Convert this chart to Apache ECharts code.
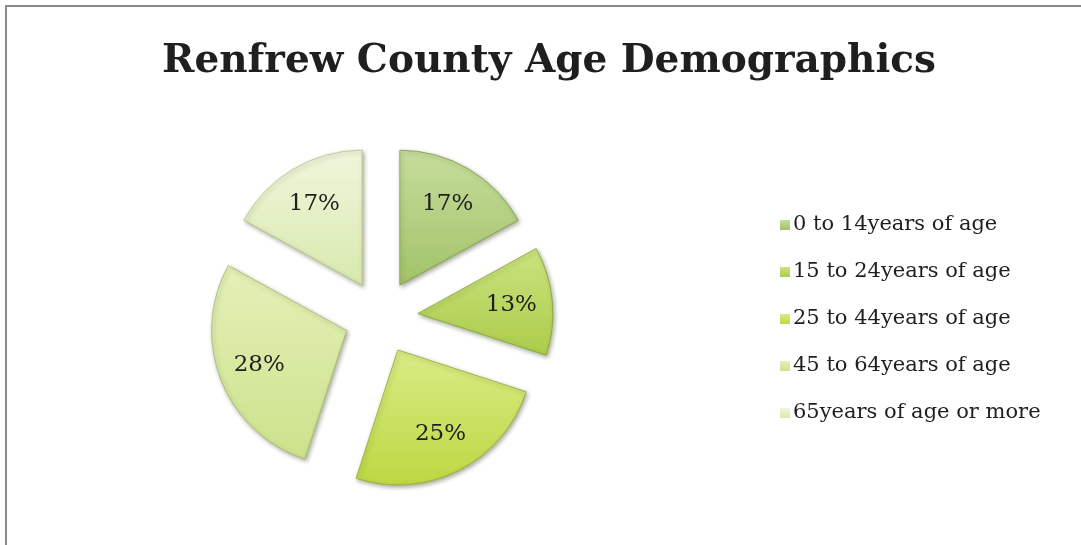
<!DOCTYPE html>
<html>
<head>
<meta charset="utf-8">
<script src="https://cdn.jsdelivr.net/npm/echarts@6/dist/echarts.min.js"></script>
<style>
  html, body { margin: 0; padding: 0; background: #ffffff; }
  #frame {
    position: absolute; left: 5px; top: 5px; right: 0; bottom: 0;
    border-top: 2px solid #8a8a8a; border-left: 2px solid #8a8a8a;
  }
  #chart { position: absolute; left: 0; top: 0; width: 1081px; height: 545px; }
</style>
</head>
<body>
<div id="frame"></div>
<div id="chart"></div>
<script>
// Age groups and their share of the population (percent)
const categories = [
  '0 to 14years of age',
  '15 to 24years of age',
  '25 to 44years of age',
  '45 to 64years of age',
  '65years of age or more'
];
const shares = [17, 13, 25, 28, 17];

// Fill for each wedge: lighter top, deeper bottom
const topColors = ['#c6dd9c', '#cbe37f', '#d8ec86', '#e4f0b8', '#eff6dc'];
const bottomColors = ['#a2c368', '#abcc4a', '#bcd842', '#cde28c', '#d9e9ae'];
const edgeColors = ['#7f9c4c', '#86a436', '#93ac32', '#a6b970', '#b4c58c'];

const serif = '"DejaVu Serif", "Liberation Serif", serif';

function fill(i) {
  return new echarts.graphic.LinearGradient(0, 0, 0, 1, [
    { offset: 0, color: topColors[i] },
    { offset: 1, color: bottomColors[i] }
  ]);
}

const wedgeData = categories.map((name, i) => ({
  name,
  value: shares[i],
  selected: true,
  itemStyle: {
    color: fill(i),
    borderColor: edgeColors[i],
    borderWidth: 0.8,
    shadowBlur: 4,
    shadowOffsetX: 1.5,
    shadowOffsetY: 2,
    shadowColor: 'rgba(60, 70, 30, 0.45)'
  }
}));

const labelData = categories.map((name, i) => ({
  name,
  value: shares[i],
  selected: true
}));

const center = [381, 317];
const outer = 135;
const pull = 37;

const chart = echarts.init(document.getElementById('chart'), null, { renderer: 'canvas' });
chart.setOption({
  backgroundColor: 'transparent',
  animation: false,
  title: {
    text: 'Renfrew County Age Demographics',
    left: 157,
    top: 37,
    textStyle: {
      fontFamily: serif,
      fontWeight: 'bold',
      fontSize: 39,
      color: '#1f1f1f'
    }
  },
  legend: {
    orient: 'vertical',
    left: 780,
    top: 213,
    padding: 0,
    icon: 'rect',
    itemWidth: 10,
    itemHeight: 10,
    itemGap: 23,
    selectedMode: false,
    data: categories,
    itemStyle: { borderWidth: 0, shadowBlur: 0, shadowOffsetX: 0, shadowOffsetY: 0 },
    textStyle: {
      fontFamily: serif,
      fontSize: 21,
      lineHeight: 24,
      color: '#1f1f1f',
      padding: [0, 0, 0, -2]
    }
  },
  series: [
    {
      name: 'wedges',
      type: 'pie',
      center,
      radius: [0, outer],
      startAngle: 90,
      clockwise: true,
      selectedMode: 'multiple',
      selectedOffset: pull,
      silent: true,
      label: { show: false },
      labelLine: { show: false },
      emphasis: { disabled: true },
      data: wedgeData
    },
    {
      name: 'labels',
      type: 'pie',
      center,
      radius: [47, outer],
      startAngle: 90,
      clockwise: true,
      selectedMode: 'multiple',
      selectedOffset: pull,
      silent: true,
      itemStyle: { color: 'rgba(0,0,0,0)' },
      emphasis: { disabled: true },
      labelLine: { show: false },
      label: {
        show: true,
        position: 'inside',
        formatter: '{c}%',
        fontFamily: serif,
        fontSize: 23,
        color: '#1f1f1f'
      },
      data: labelData
    }
  ]
});
</script>
</body>
</html>
